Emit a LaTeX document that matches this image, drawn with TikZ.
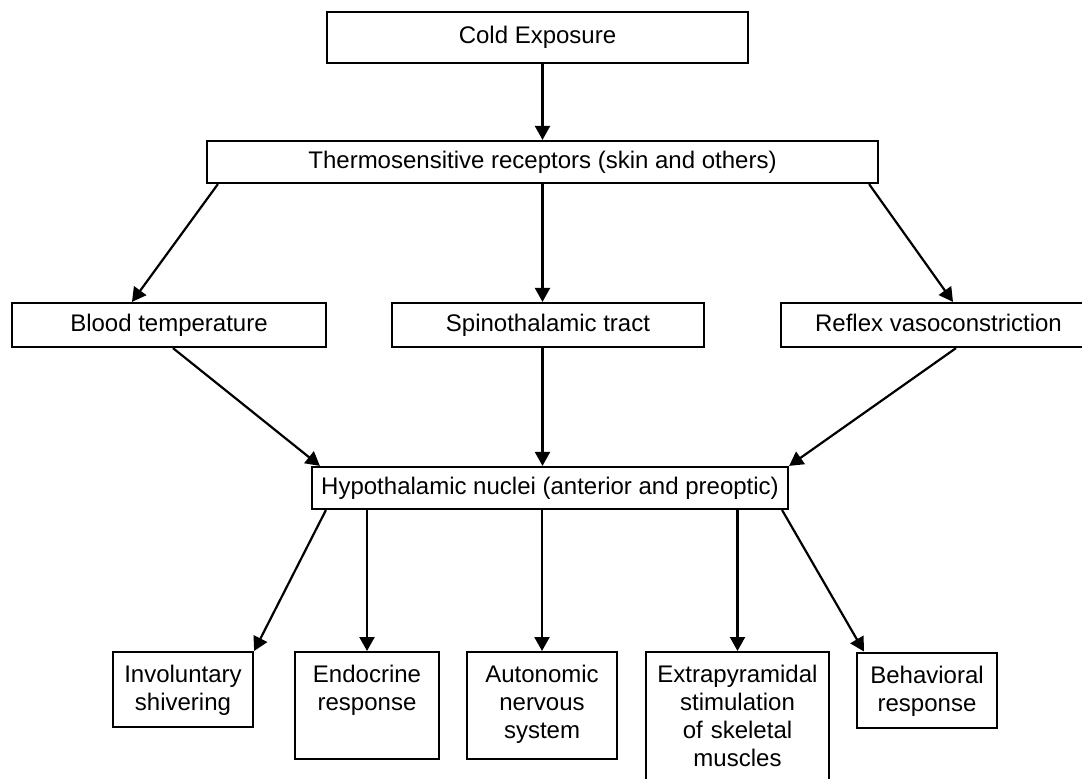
\documentclass[tikz,border=0pt]{standalone}
\usepackage{fontspec}
\setmainfont{Liberation Sans}
\usetikzlibrary{arrows.meta}

\begin{document}
\begin{tikzpicture}[x=0.5pt,y=-0.5pt]
\tikzstyle{every node}=[font=\fontsize{12}{14}\selectfont]
\tikzstyle{box}=[draw, line width=1.1pt, inner sep=0pt, minimum height=21pt, text height=8.7pt, text depth=2.5pt]
\tikzstyle{resp}=[draw, line width=1.1pt, anchor=north, inner xsep=0pt, inner ysep=6.5pt, align=center, text height=8.7pt]
\tikzstyle{arr}=[line width=1.1pt, -{Triangle[length=7pt,width=7.5pt]}]
\useasboundingbox (0,0) rectangle (1082,778);
\clip (-5,-5) rectangle (1082,778);
\draw (537.5,37.5) node (cold) [box,minimum width=210.5pt,minimum height=25.5pt] {Cold Exposure};
\draw (542.5,162) node (thermo) [box,minimum width=335.5pt] {Thermosensitive receptors (skin and others)};
\draw (169,325) node (blood) [box,minimum width=157pt,minimum height=22pt] {Blood temperature};
\draw (548,325) node (spino) [box,minimum width=156pt,minimum height=22pt] {Spinothalamic tract};
\draw (938.5,325) node (reflex) [box,minimum width=157.5pt,minimum height=22pt] {Reflex vasoconstriction};
\draw (550,488) node (hypo) [box,minimum width=238pt] {Hypothalamic nuclei (anterior and preoptic)};
\draw (183,651) node (invol) [resp,text width=70pt,text depth=15.8pt] {Involuntary\\shivering};
\draw (367,651) node (endo) [resp,text width=72pt,text depth=31.8pt] {Endocrine\\response};
\draw (542,651) node (autonom) [resp,text width=75pt,text depth=31.8pt] {Autonomic\\nervous\\system};
\draw (737.5,651) node (extra) [resp,text width=91.5pt,text depth=80pt] {Extrapyramidal\\stimulation\\of skeletal\\muscles};
\draw (927,651.5) node (behav) [resp,text width=70pt,text depth=15.8pt] {Behavioral\\response};
\draw[arr] (cold.south -| thermo.north) -- (thermo.north);
\draw[arr] ([xshift=6pt]thermo.south west) -- ([xshift=-18.5pt]blood.north);
\draw[arr] (thermo.south) -- (thermo.south |- spino.north);
\draw[arr] ([xshift=-5pt]thermo.south east) -- ([xshift=7.25pt]reflex.north);
\draw[arr] ([xshift=2pt]blood.south) -- ([xshift=4.5pt]hypo.north west);
\draw[arr] (thermo.south |- spino.south) -- (thermo.south |- hypo.north);
\draw[arr] ([xshift=8.75pt]reflex.south) -- (hypo.north east);
\draw[arr] ([xshift=7.5pt]hypo.south west) -- (invol.north east);
\draw[arr] (hypo.south -| endo.north) -- (endo.north);
\draw[arr] (hypo.south -| autonom.north) -- (autonom.north);
\draw[arr] (hypo.south -| extra.north) -- (extra.north);
\draw[arr] ([xshift=-3.5pt]hypo.south east) -- ([xshift=4pt]behav.north west);
\end{tikzpicture}
\end{document}
